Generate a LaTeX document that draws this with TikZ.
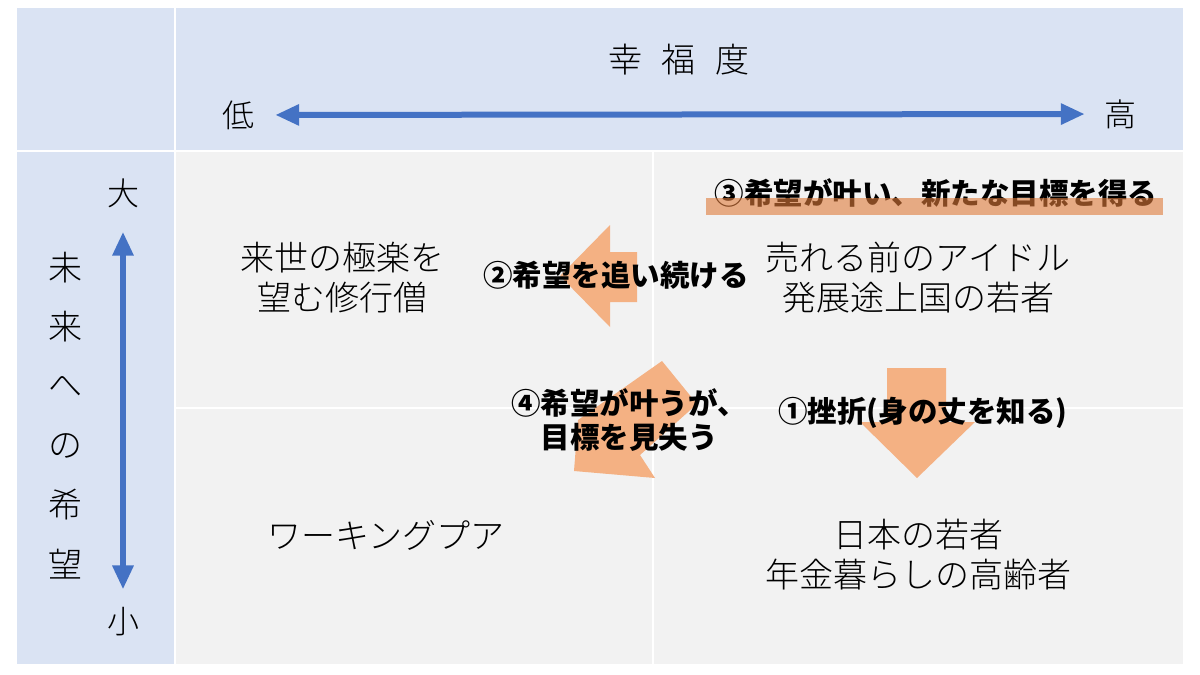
\documentclass[tikz,border=0pt]{standalone}
\usepackage{fontspec}
\setmainfont{Noto Sans CJK JP}
\newfontfamily\lightjp{Noto Sans CJK JP Light}
\usetikzlibrary{arrows.meta}
\definecolor{hdblue}{HTML}{DAE3F3}
\definecolor{cellgray}{HTML}{F2F2F2}
\definecolor{axisblue}{HTML}{4472C4}
\definecolor{stepor}{HTML}{F4B183}
\definecolor{barorange}{HTML}{DE7A3A}

\begin{document}
\begin{tikzpicture}[x=1pt,y=-1pt,
		every node/.style={inner sep=0pt},
		lbl/.style={font=\lightjp\fontsize{34}{40}\selectfont, align=center},
		steplbl/.style={font=\bfseries\fontsize{29.5}{34}\selectfont, align=center},
		axislbl/.style={font=\lightjp\fontsize{32}{32}\selectfont},
		axis/.style={axisblue, line width=6pt,
			{Triangle[length=24pt,width=20pt]}-{Triangle[length=24pt,width=20pt]}}]
		\useasboundingbox (0,0) rectangle (1200,675);
		\fill [white] (0,0) rectangle (1200,675);
		% header and left column
		\fill [hdblue] (17,8) rectangle (174,150);
		\fill [hdblue] (176,8) rectangle (1183,150);
		\fill [hdblue] (17,152) rectangle (174,664);
		% four cells
		\fill [cellgray] (176,152) rectangle (652,407);
		\fill [cellgray] (653.5,152) rectangle (1183,407);
		\fill [cellgray] (176,408.5) rectangle (652,664);
		\fill [cellgray] (653.5,408.5) rectangle (1183,664);
		% axes
		\node [axislbl, font=\lightjp\fontsize{34}{34}\selectfont] (title) at (679,60) {幸\hspace{20pt}福\hspace{20pt}度};
		\node [axislbl] (low) at (238,115) {低};
		\node [axislbl] (high) at (1120,114) {高};
		\draw [axis, shorten <=21pt, shorten >=19pt] (low) -- (high);
		\node [axislbl] (big) at (123,193) {大};
		\node [axislbl] (small) at (123,622) {小};
		\draw [axis, shorten <=24pt, shorten >=18pt] (big) -- (small);
		\foreach \ch [count=\i] in {未,来,へ,の,希,望}
			\node [axislbl, font=\lightjp\fontsize{34}{34}\selectfont] (hope\i) at (65,208+59.4*\i) {\ch};
		% step arrows
		\fill [stepor] (887,368) -- (946,368) -- (946,422) -- (975,422) -- (917,478) -- (860,422) -- (887,422) -- cycle;
		\fill [stepor] (637,252) -- (610,252) -- (610,225) -- (560,276) -- (610,327) -- (610,302) -- (637,302) -- cycle;
		\fill [stepor] (662,361) -- (697,404) -- (640,455) -- (655,478) -- (574,471) -- (578,420) -- cycle;
		% cell texts
		\node [lbl] (monk) at (342,278) {来世の極楽を\\望む修行僧};
		\node [lbl] (idol) at (918,278) {売れる前のアイドル\\発展途上国の若者};
		\node [lbl] (poor) at (386,535) {ワーキングプア};
		\node [lbl] (elder) at (918,555) {日本の若者\\年金暮らしの高齢者};
		% step texts
		\node [steplbl] (step1) at (923,413) {①挫折(身の丈を知る)};
		\node [steplbl] (step2) at (616,275) {②希望を追い続ける};
		\node [steplbl] (step3) at (936,193) {③希望が叶い、新たな目標を得る};
		\node [steplbl] (step4) at (629,420) {④希望が叶うが、\\目標を見失う};
		\fill [barorange, opacity=0.6] (706,198) rectangle (1163,215);
	\end{tikzpicture}
\end{document}
